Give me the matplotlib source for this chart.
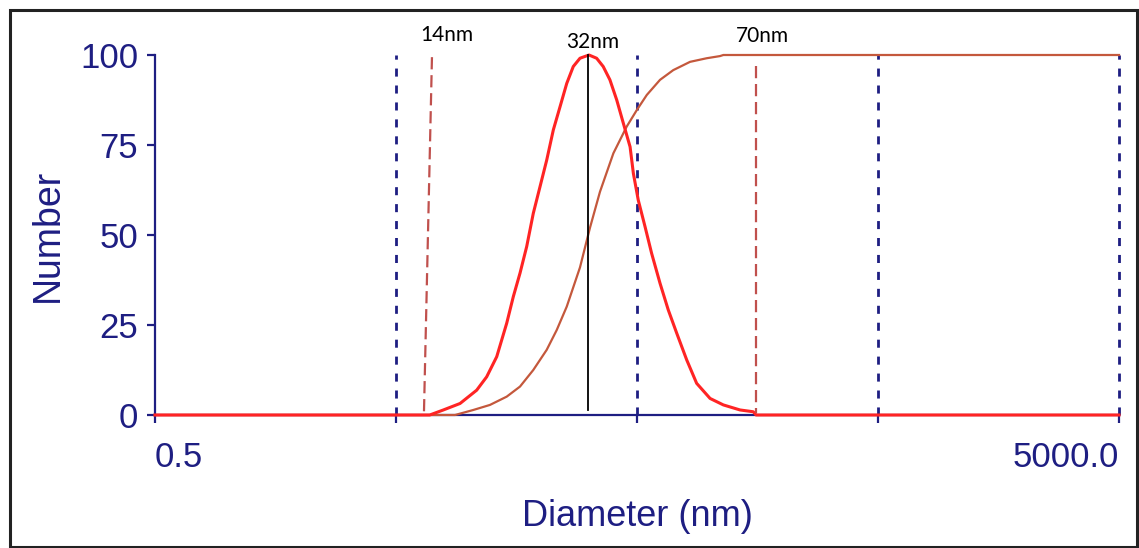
import numpy as np
import matplotlib
matplotlib.use("Agg")
import matplotlib.pyplot as plt
from matplotlib.patches import Rectangle

# number distribution (red), diameter in nm
dist_d = [0.5, 6.9, 7.86, 9.22, 10.81, 11.89, 13.09, 14.40, 15.34, 16.35, 17.43, 18.56, 19.79,
          21.10, 22.48, 23.96, 25.55, 27.2, 29.0, 31.6, 34.0, 36.2, 38.6, 41.2, 43.9, 46.8,
          48.3, 50.6, 54.0, 57.5, 62.3, 67.4, 73.1, 80.4, 88.4, 100.5, 114.1, 133.8, 151.9, 156, 5000]
dist_v = [0, 0, 1.4, 3.2, 6.9, 10.6, 16.2, 25.5, 32.9, 39.4, 46.8, 56, 63.4,
          70.8, 79.2, 85.6, 92.1, 96.8, 99.1, 100, 99.1, 96.8, 93.1, 87.5, 81, 74.5,
          67.1, 59.7, 52.3, 44.9, 36.6, 29.2, 22.7, 15.3, 8.8, 4.6, 2.8, 1.4, 0.9, 0, 0]

# cumulative (brown)
cum_d = [0.5, 8.79, 10.47, 12.27, 14.4, 16.35, 18.56, 21.1, 23.22, 25.55, 29.0, 31.9, 35.1,
         39.9, 45.3, 49.9, 54.9, 62.3, 70.7, 83.0, 97.3, 110.5, 114.1, 5000]
cum_v = [0, 0, 1.4, 2.8, 5.1, 7.9, 12.5, 18.1, 23.6, 30.1, 41, 52, 62,
         72.7, 80.1, 84.7, 88.9, 93.1, 95.8, 98.1, 99.1, 99.7, 100, 100]

grid_d = [5, 50, 500, 5000]
xticks = [0.5, 5, 50, 500, 5000]
xtick_labels = ["0.5", "", "", "", "5000.0"]
yticks = [0, 25, 50, 75, 100]

# annotation markers
lo_line = ([7.05, 6.53], [99.4, 0.5])
hi_line = ([155.9, 155.9], [97, 0.5])
peak_line = ([31.4, 31.4], [100, 1.4])
labels = ["14nm", "32nm", "70nm"]
label_d = [8.16, 32.9, 166]
label_y = [105.6, 103.6, 105.3]

navy = "#1e1e82"
plt.rcParams["font.family"] = ["Liberation Sans", "DejaVu Sans"]

fig = plt.figure(figsize=(11.39, 5.48), dpi=100)
ax = fig.add_axes([155/1139, 1-415/548, (1119-155)/1139, 360/548])
ax.set_xscale("log")
ax.set_xlim(0.5, 5000)
ax.set_ylim(0, 100)

for g in grid_d:
    ax.plot([g, g], [0, 100], color=navy, lw=2, ls=(0, (2.9, 3.2)), zorder=1, clip_on=False)

ax.plot(cum_d, cum_v, color="#c4583c", lw=1.6, zorder=3, clip_on=False,
        solid_joinstyle="round")
ax.plot(dist_d, dist_v, color="#ff2424", lw=2.2, zorder=4, clip_on=False,
        solid_joinstyle="round")

ax.plot(*lo_line, color="#c0504d", lw=1.6, ls=(0, (5.5, 2.6)), zorder=5, clip_on=False)
ax.plot(*hi_line, color="#c0504d", lw=1.6, ls=(0, (5.5, 2.6)), zorder=5, clip_on=False)
ax.plot(*peak_line, color="black", lw=1.3, zorder=5, clip_on=False)
for t, d, y in zip(labels, label_d, label_y):
    ax.text(d, y, t, ha="center", va="center", fontsize=15, color="black",
            family=["Lato", "DejaVu Sans"])

for s in ["top", "right"]:
    ax.spines[s].set_visible(False)
for s in ["left", "bottom"]:
    ax.spines[s].set_color(navy)
    ax.spines[s].set_linewidth(1.6)

ax.set_xticks(xticks)
ax.set_xticklabels(xtick_labels)
ax.xaxis.set_minor_locator(matplotlib.ticker.NullLocator())
ax.set_yticks(yticks)
ax.tick_params(axis="both", colors=navy, labelsize=25, length=6, width=1.6, direction="out")
ax.tick_params(axis="x", pad=13)
ax.tick_params(axis="y", pad=6)
tl = ax.get_xticklabels()
tl[0].set_ha("left")
tl[-1].set_ha("right")

ax.set_xlabel("Diameter (nm)", fontsize=26, color=navy, labelpad=18)
ax.set_ylabel("Number", fontsize=27, color=navy, labelpad=10)

fig.patches.append(Rectangle((9.5/1139, 1-547/548), 1127/1139, 537/548,
                             transform=fig.transFigure, fill=False,
                             edgecolor="#222222", lw=2.2))

fig.savefig("out.png", dpi=100)
